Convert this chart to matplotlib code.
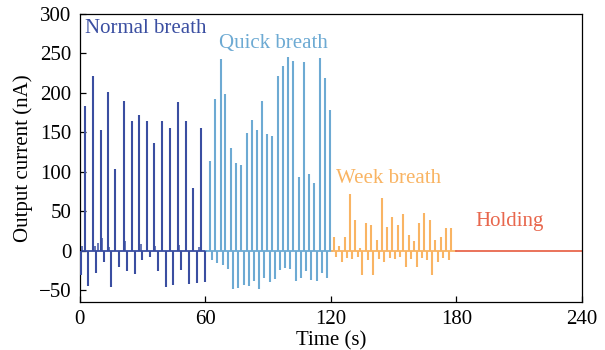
import matplotlib

matplotlib.use("Agg")
import matplotlib.pyplot as plt

# peak / dip times (s) and currents (nA)
normal_peak_t = [2.4, 6.1, 9.9, 13.4, 17.0, 21.0, 24.7, 28.2, 31.9, 35.5,
                 39.4, 43.0, 46.7, 50.5, 54.2, 57.8]
normal_peak_v = [183, 222, 153, 201, 103, 190, 164, 172, 165, 136,
                 165, 156, 188, 165, 80, 156]
normal_dip_t = [0.5, 4.0, 7.9, 11.5, 15.0, 18.8, 22.6, 26.3, 29.9, 33.6,
                37.4, 41.0, 44.7, 48.5, 52.2, 55.8, 59.7]
normal_dip_v = [-31, -45, -28, -14, -46, -20, -26, -29, -12, -8,
                -26, -46, -44, -25, -42, -41, -40]
# small overshoots next to the baseline
normal_bump_t = [1.0, 7.0, 8.6, 10.6, 14.0, 21.7, 29.2, 36.0, 47.5, 57.0]
normal_bump_v = [6, 6, 10, 16, 5, 12, 8, 6, 7, 5]

quick_peak_t = [62.2, 64.5, 67.3, 69.6, 72.2, 74.6, 77.0, 79.7, 82.1, 84.5,
                87.0, 89.6, 92.0, 94.5, 97.1, 99.4, 102.0, 104.5, 107.1, 109.6,
                112.0, 114.6, 117.0, 119.5]
quick_peak_v = [114, 192, 243, 198, 130, 111, 109, 149, 166, 153,
                190, 148, 145, 221, 234, 246, 240, 94, 239, 97,
                86, 244, 219, 178]
quick_dip_t = [63.3, 65.6, 68.4, 70.8, 73.3, 75.8, 78.3, 80.8, 83.2, 85.7,
               88.2, 90.7, 93.2, 95.7, 98.2, 100.6, 103.1, 105.7, 108.2, 110.7,
               113.2, 115.7, 118.1]
quick_dip_v = [-12, -16, -18, -23, -48, -47, -43, -45, -38, -49,
               -35, -39, -36, -24, -22, -23, -38, -35, -26, -37,
               -38, -28, -35]

week_peak_t = [121.4, 123.9, 126.5, 129.0, 131.6, 134.1, 136.7, 139.2, 141.8, 144.3,
               146.9, 149.4, 152.0, 154.5, 157.1, 159.6, 162.2, 164.7, 167.3, 169.8,
               172.4, 174.9, 177.5]
week_peak_v = [17, 6, 17, 72, 39, 3, 35, 32, 13, 67,
               30, 43, 33, 46, 20, 12, 35, 48, 39, 13,
               17, 29, 29]
week_dip_t = [122.6, 125.2, 127.7, 130.3, 132.8, 134.9, 137.9, 139.9, 143.0, 145.6,
              148.1, 150.7, 153.2, 155.8, 158.3, 160.9, 163.4, 166.0, 168.5, 171.1,
              173.6, 176.2]
week_dip_v = [-8, -14, -9, -11, -8, -31, -12, -31, -11, -14,
              -9, -11, -8, -21, -11, -21, -9, -12, -31, -14,
              -9, -12]

segments = ["Normal breath", "Quick breath", "Week breath", "Holding"]
seg_bounds = [(0, 60.5), (60.5, 120.5), (120.5, 180), (180, 240)]
colors = ["#3A4EA1", "#6DAAD3", "#F9B463", "#E8674D"]
label_xy = [(2.5, 281), (66.5, 262), (122.5, 92), (189, 37)]

plt.rcParams["font.family"] = ["Liberation Serif", "DejaVu Serif"]

fig = plt.figure(figsize=(6.05, 3.5), dpi=100)
ax = fig.add_axes([0.132, 0.137, 0.830, 0.823])

events = [
    (normal_peak_t, normal_peak_v, normal_dip_t, normal_dip_v),
    (quick_peak_t, quick_peak_v, quick_dip_t, quick_dip_v),
    (week_peak_t, week_peak_v, week_dip_t, week_dip_v),
]
for (t0, t1), col in zip(seg_bounds, colors):
    ax.plot([t0, t1], [0, 0], color=col, lw=1.3, zorder=2)
for (pt, pv, dt, dv), col in zip(events, colors):
    ax.vlines(pt, 0, pv, color=col, lw=1.5, zorder=3)
    ax.vlines(dt, 0, dv, color=col, lw=1.5, zorder=3)
ax.vlines(normal_bump_t, 0, normal_bump_v, color=colors[0], lw=1.1, zorder=3)

for name, (tx, ty), col in zip(segments, label_xy, colors):
    ax.text(tx, ty, name, color=col, fontsize=15, va="center", ha="left")

ax.set_xlim(0, 240)
ax.set_ylim(-65, 300)
ax.set_xticks([0, 60, 120, 180, 240])
ax.set_yticks([-50, 0, 50, 100, 150, 200, 250, 300])
ax.tick_params(direction="in", length=4, width=0.9, labelsize=15, pad=6)
ax.yaxis.set_major_formatter(matplotlib.ticker.FuncFormatter(
    lambda v, _: f"\u2212{abs(int(v))}" if v < 0 else f"{int(v)}"))
for sp in ax.spines.values():
    sp.set_linewidth(0.9)
ax.set_xlabel("Time (s)", fontsize=15, labelpad=1)
ax.set_ylabel("Output current (nA)", fontsize=15, labelpad=4)

fig.savefig("out.png", dpi=100, facecolor="white")
